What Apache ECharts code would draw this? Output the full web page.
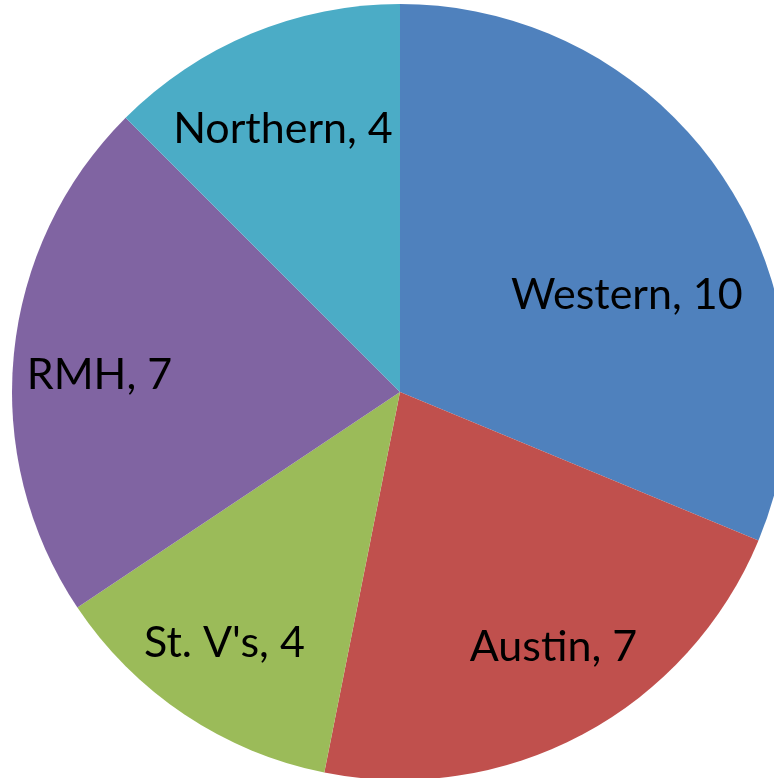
<!DOCTYPE html>
<html>
<head>
<meta charset="utf-8">
<script src="https://cdn.jsdelivr.net/npm/echarts@6/dist/echarts.min.js"></script>
<style>
  html, body { margin: 0; padding: 0; background: #fff; }
  #chart { width: 774px; height: 778px; }
</style>
</head>
<body>
<div id="chart"></div>
<script>
var names = ['Western', 'Austin', "St. V's", 'RMH', 'Northern'];
var values = [10, 7, 4, 7, 4];
var colors = ['#4F81BD', '#C0504D', '#9BBB59', '#8064A2', '#4BACC6'];

// small label nudges to sit where Excel put them
var nudges = [[-21, 69], [13, -8], [-10, 3], [-4, 12], [-3, 12]];

var myChart = echarts.init(document.getElementById('chart'));

var sliceData = [];
for (var i = 0; i < names.length; i++) {
	sliceData.push({ name: names[i], value: values[i], itemStyle: { color: colors[i] } });
}

var options = {
	animation: false,
	series: [
		{
			type: 'pie',
			center: [400, 392],
			radius: [0, 388],
			startAngle: 90,
			clockwise: true,
			silent: true,
			label: { show: false },
			labelLine: { show: false },
			itemStyle: { borderWidth: 0 },
			data: sliceData
		},
		{
			// transparent ring only used to put the labels at ~3/4 radius
			type: 'pie',
			center: [400, 392],
			radius: [202, 388],
			startAngle: 90,
			clockwise: true,
			silent: true,
			itemStyle: { color: 'rgba(0,0,0,0)', borderWidth: 0 },
			label: {
				show: true,
				position: 'inside',
				formatter: '{b}, {c}',
				color: '#000',
				fontFamily: 'Lato',
				fontSize: 43
			},
			labelLine: { show: false },
			labelLayout: function (params) {
				var n = nudges[params.dataIndex];
				return { dx: n[0], dy: n[1] };
			},
			data: sliceData.map(function (d) { return { name: d.name, value: d.value }; })
		}
	]
};

myChart.setOption(options);
</script>
</body>
</html>
